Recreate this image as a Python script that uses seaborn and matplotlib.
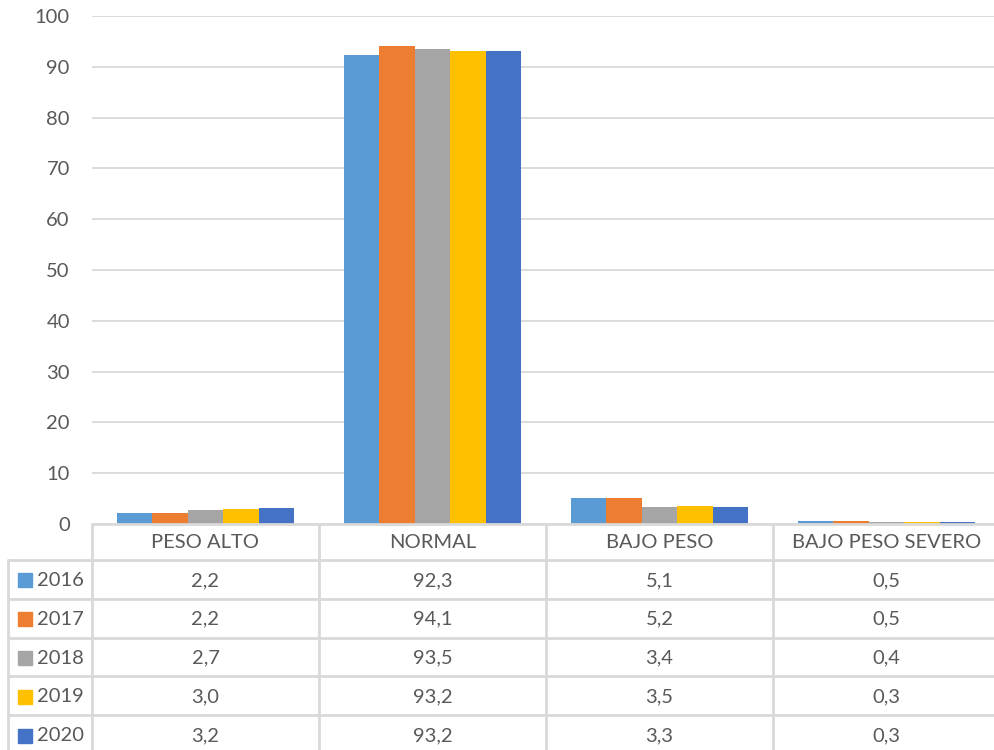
import pandas as pd
import matplotlib.pyplot as plt
import matplotlib.patches as mpatches
from matplotlib.lines import Line2D
import seaborn as sns

sns.set_style("white")
plt.rcParams['font.family'] = ['Lato', 'DejaVu Sans']

categorias = ['PESO ALTO', 'NORMAL', 'BAJO PESO', 'BAJO PESO SEVERO']
anios = ['2016', '2017', '2018', '2019', '2020']
v2016 = [2.2, 92.3, 5.1, 0.5]
v2017 = [2.2, 94.1, 5.2, 0.5]
v2018 = [2.7, 93.5, 3.4, 0.4]
v2019 = [3.0, 93.2, 3.5, 0.3]
v2020 = [3.2, 93.2, 3.3, 0.3]
colores = ['#5B9BD5', '#ED7D31', '#A5A5A5', '#FFC000', '#4472C4']

series = [v2016, v2017, v2018, v2019, v2020]
df = pd.DataFrame({
    'Categoria': categorias * len(anios),
    'Anio': [a for a in anios for _ in categorias],
    'Valor': [v for s in series for v in s],
})

TXT = '#595959'
GRID = '#D9D9D9'
FS = 14.5

W, H = 995, 750
fig = plt.figure(figsize=(W / 100, H / 100), dpi=100)
left, right = 92 / W, 1000 / W
tab_h = H - 524  # alto de la tabla en px
ax = fig.add_axes([left, tab_h / H, right - left, (524 - 16) / H])

sns.barplot(data=df, x='Categoria', y='Valor', hue='Anio', order=categorias,
            hue_order=anios, palette=colores, saturation=1, width=0.78,
            gap=0, linewidth=0, ax=ax, legend=False)
ax.set_xlim(-0.5, 3.5)
ax.set_ylim(0, 100)
ax.set_yticks(range(0, 101, 10))
ax.set_xticks([])
ax.set_xlabel('')
ax.set_ylabel('')
ax.tick_params(axis='y', length=0, pad=16, labelsize=FS, labelcolor=TXT)
ax.yaxis.grid(True, color=GRID, lw=1.3)
ax.set_axisbelow(True)
for s in ax.spines.values():
    s.set_visible(False)

# tabla de datos
tab = fig.add_axes([left, 0, right - left, tab_h / H])
tab.set_xlim(-0.5, 3.5)
tab.set_ylim(tab_h, 0)
tab.axis('off')
hdr = 36
rh = 38.8
xl = -0.5 - 84 / 227
n = len(anios)
bottom = hdr + rh * n

kw = dict(color=GRID, lw=2, clip_on=False)
tab.add_line(Line2D([-0.5, 3.5], [0, 0], **kw))
for i in range(n + 1):
    y = hdr + rh * i
    tab.add_line(Line2D([xl, 3.5], [y, y], **kw))
tab.add_line(Line2D([-0.5, -0.5], [0, bottom], **kw))
for j in range(1, len(categorias) + 1):
    tab.add_line(Line2D([j - 0.5, j - 0.5], [0, bottom], **kw))
tab.add_line(Line2D([xl, xl], [hdr, bottom], **kw))

for j, c in enumerate(categorias):
    tab.text(j, hdr / 2 + 1, c, ha='center', va='center', fontsize=FS, color=TXT)

for i, (a, s, col) in enumerate(zip(anios, series, colores)):
    yc = hdr + rh * (i + 0.5) + 1
    sq = 14
    tab.add_patch(mpatches.Rectangle((xl + 10 / 227, yc - sq / 2), sq / 227, sq,
                                     color=col, clip_on=False))
    tab.text(xl + 29 / 227, yc, a, ha='left', va='center', fontsize=FS, color=TXT,
             clip_on=False)
    for j, v in enumerate(s):
        tab.text(j, yc, f'{v:.1f}'.replace('.', ','), ha='center', va='center',
                 fontsize=FS, color=TXT)

fig.savefig('out.png', dpi=100)
